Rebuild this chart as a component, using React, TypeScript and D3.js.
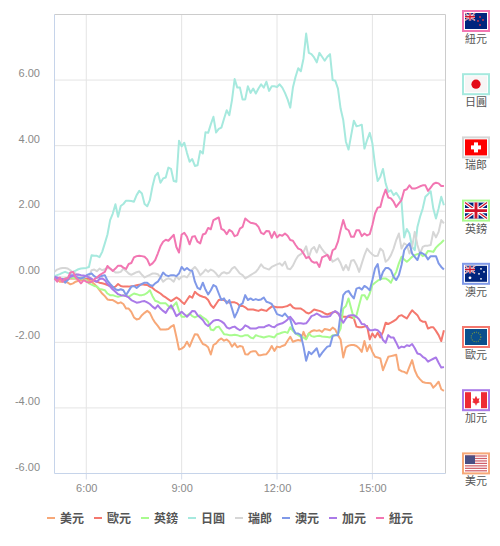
import React from "react";
import * as d3 from "d3";

const USD = [-.05,-.08,-.15,-.15,-.15,-.18,-.23,-.20,-.15,-.12,-.10,-.10,-.10,-.12,-.15,-.22,-.30,-.41,-.51,-.59,-.69,-.71,-.71,-.76,-.81,-.78,-.83,-.97,-.97,-1.07,-1.24,-1.30,-1.28,-1.17,-1.10,-1.04,-1.10,-1.27,-1.40,-1.50,-1.61,-1.61,-1.61,-1.59,-1.52,-1.47,-1.83,-2.22,-2.19,-2.13,-1.98,-2.13,-1.93,-1.75,-1.76,-1.91,-2.05,-2.08,-2.15,-2.37,-2.08,-2.03,-1.93,-1.88,-1.95,-1.91,-1.98,-2.13,-2.03,-2.15,-2.11,-2.13,-2.36,-2.37,-2.29,-2.27,-2.27,-2.39,-2.39,-2.37,-2.36,-2.26,-2.11,-2.26,-2.13,-2.15,-2.11,-2.08,-1.95,-1.83,-1.98,-1.95,-1.93,-1.95,-1.68,-1.88,-1.73,-1.66,-1.63,-1.65,-1.63,-1.68,-1.59,-1.61,-1.63,-1.55,-1.61,-1.78,-1.91,-2.46,-2.15,-2.10,-2.08,-2.08,-2.11,-2.18,-2.29,-1.96,-2.27,-2.08,-2.29,-2.44,-2.46,-2.49,-2.85,-2.64,-2.44,-2.42,-2.40,-2.38,-2.83,-2.88,-2.90,-2.95,-2.74,-2.54,-2.85,-3.03,-3.13,-3.21,-3.23,-3.24,-3.25,-3.38,-3.30,-3.20,-3.43,-3.48];
const EUR = [-.02,-.05,-.08,-.10,-.10,-.08,-.05,-.05,-.05,-.05,-.05,-.05,-.05,-.06,-.08,-.12,-.15,-.18,-.20,-.22,-.25,-.28,-.33,-.30,-.22,-.28,-.30,-.30,-.30,-.29,-.28,-.26,-.24,-.23,-.24,-.25,-.30,-.34,-.41,-.46,-.51,-.58,-.63,-.69,-.74,-.69,-.63,-.68,-.76,-.83,-.71,-.59,-.64,-.46,-.53,-.58,-.61,-.63,-.71,-.86,-.95,-.83,-.71,-.69,-.71,-.76,-.79,-.78,-.78,-.81,-.89,-.89,-.93,-1.0,-1.0,-1.0,-1.02,-1.04,-1.0,-1.02,-1.04,-.97,-.91,-.91,-.93,-.93,-.93,-.91,-.89,-.84,-.93,-.97,-.97,-.97,-1.02,-1.09,-1.12,-1.07,-1.0,-1.02,-1.04,-1.07,-1.12,-1.15,-1.12,-1.09,-1.06,-1.12,-1.17,-1.22,-1.22,-1.22,-1.24,-1.27,-1.52,-1.54,-1.54,-1.52,-1.50,-1.91,-1.73,-1.85,-1.71,-1.85,-1.68,-1.40,-1.44,-1.40,-1.35,-1.30,-1.20,-1.17,-1.22,-1.27,-1.14,-1.02,-1.10,-1.17,-1.32,-1.37,-1.37,-1.58,-1.54,-1.54,-1.65,-1.78,-1.96,-1.63];
const GBP = [0,-.05,-.08,-.06,-.05,-.03,-.02,-.04,-.05,-.05,-.05,-.07,-.10,-.20,-.24,-.28,-.30,-.37,-.39,-.41,-.51,-.56,-.56,-.59,-.61,-.59,-.56,-.58,-.61,-.56,-.51,-.53,-.56,-.56,-.54,-.49,-.41,-.59,-.73,-.76,-.81,-.81,-.81,-.89,-.97,-.87,-.78,-1.04,-1.22,-1.22,-1.18,-1.12,-1.20,-1.24,-1.20,-1.17,-1.24,-1.29,-1.37,-1.61,-1.63,-1.54,-1.52,-1.63,-1.75,-1.76,-1.78,-1.78,-1.77,-1.78,-1.81,-1.81,-1.78,-1.78,-1.85,-1.88,-1.78,-1.81,-1.83,-1.85,-1.83,-1.81,-1.83,-1.85,-1.75,-1.73,-1.70,-1.68,-1.71,-1.54,-1.65,-1.73,-1.78,-1.83,-1.85,-1.91,-1.73,-1.81,-1.83,-1.81,-1.80,-1.82,-1.83,-1.84,-1.85,-1.78,-1.78,-1.75,-1.58,-.97,-.89,-.66,-.97,-1.27,-1.17,-.86,-.56,-.56,-.69,-.51,-.25,-.18,-.12,-.08,-.05,-.05,-.10,-.18,0,.15,.41,.61,.53,.46,.53,.61,.66,.69,.71,.63,.66,.79,.78,.76,.89,.97,1.04,1.12];
const JPY = [.02,.05,.08,.12,.15,.12,.10,.15,.19,.23,.25,.26,.27,.30,.66,.64,.64,.60,.76,1.02,1.29,1.73,1.93,2.21,1.83,2.16,2.22,2.32,2.32,2.31,2.29,2.49,2.62,2.54,2.22,2.15,2.34,2.76,3.08,3.17,2.87,3.00,3.03,3.33,3.29,2.92,2.90,4.15,3.98,4.09,3.78,3.51,3.59,3.38,3.40,3.84,3.76,4.41,4.39,4.65,4.88,4.40,4.51,4.55,4.82,5.08,4.93,5.39,6.03,5.77,5.77,5.41,5.41,5.81,5.61,5.74,5.59,5.74,5.87,5.77,5.95,5.67,5.81,5.81,5.79,5.87,5.77,5.61,5.41,5.16,5.77,6.10,6.36,6.27,6.66,7.42,6.83,6.79,6.69,6.54,6.83,6.71,6.59,6.71,6.79,6.00,5.98,5.74,5.13,4.78,4.12,3.88,4.32,4.76,4.59,4.61,4.64,3.91,4.17,4.39,4.07,3.40,2.92,3.05,3.29,2.85,2.59,2.64,2.49,2.56,2.44,2.29,1.20,1.46,1.32,.91,.81,1.52,1.83,2.08,2.44,2.52,2.61,2.08,1.78,2.08,2.44,2.18];
const CHF = [.15,.22,.25,.27,.27,.25,.20,.13,.10,.05,.02,0,0,.02,.20,.22,.17,.25,.20,.23,.27,.25,.20,.13,.13,.15,.25,.18,.10,.06,.10,.14,.16,.06,-.02,.02,.06,.10,.10,.08,-.02,-.15,-.08,-.05,-.08,-.15,.02,-.08,0,.02,-.02,.10,.22,.30,.20,.05,.12,.22,.15,.22,.18,.10,0,.10,.14,.10,.13,.25,.30,.20,.10,.05,-.05,0,.05,.10,.15,.25,.38,.28,.25,.22,.30,.34,.38,.41,.34,.46,.25,.23,.34,.51,.64,.69,.76,.93,.59,.84,.91,.74,.97,.84,.74,.66,.61,.46,.51,.56,.41,.20,.36,.20,.49,.51,.36,.15,.41,.66,.86,.76,.68,.63,.64,.86,.79,.46,.53,.66,.86,1.12,1.32,.86,1.02,.97,.71,.91,1.37,.97,.71,.91,.95,.95,.97,1.37,1.20,1.37,1.73,1.63];
const AUD = [-.08,-.05,-.05,-.08,-.18,-.10,.05,.05,0,-.03,-.05,-.02,.04,.08,.10,.02,-.03,0,.03,.05,-.12,-.22,-.30,-.38,-.41,-.38,-.41,-.56,-.43,-.30,-.28,-.34,-.27,-.22,-.18,-.18,-.25,-.28,-.20,-.15,-.02,.13,.05,.02,.05,.05,.02,.10,.30,.20,.27,.20,.18,-.15,-.34,-.38,-.18,-.39,-.54,-.41,-.25,-.30,-.51,-.71,-.66,-.81,-.71,-.97,-1.24,-1.07,-.86,-.81,-.56,-.71,-.66,-.71,-.68,-.71,-.69,-.63,-.76,-.79,-.83,-.97,-1.14,-1.17,-1.20,-1.12,-1.22,-1.30,-1.58,-1.73,-1.73,-1.78,-2.13,-2.56,-2.29,-2.36,-2.27,-2.18,-2.44,-2.32,-2.22,-2.13,-2.11,-1.81,-1.78,-1.78,-1.12,-.56,-.46,-.43,-.56,-.66,-.36,-.33,-.39,-.28,-.33,-.41,-.10,.25,.39,-.08,.15,.27,.27,.20,0,-.10,.05,.36,.81,.93,1.02,.71,.61,.51,.74,.71,.66,.53,.63,.63,.63,.41,.30,.22];
const CAD = [0,-.02,-.05,-.07,-.08,-.04,0,.03,.06,.07,.05,.04,.02,-.02,-.06,-.12,-.15,-.07,-.05,-.10,-.22,-.30,-.39,-.46,-.53,-.56,-.57,-.59,-.63,-.71,-.75,-.79,-.78,-.75,-.74,-.78,-.83,-.91,-.97,-.87,-.97,-1.04,-1.10,-.97,-.87,-1.02,-1.20,-1.14,-1.07,-1.14,-1.22,-1.14,-1.04,-1.05,-1.17,-1.24,-1.32,-1.44,-1.50,-1.42,-1.34,-1.32,-1.32,-1.36,-1.42,-1.54,-1.58,-1.54,-1.52,-1.58,-1.63,-1.58,-1.48,-1.52,-1.58,-1.58,-1.58,-1.54,-1.54,-1.54,-1.50,-1.47,-1.52,-1.54,-1.47,-1.44,-1.42,-1.37,-1.30,-1.22,-1.32,-1.44,-1.42,-1.42,-1.43,-1.42,-1.32,-1.20,-1.17,-1.12,-1.17,-1.22,-1.22,-1.22,-1.20,-1.09,-1.05,-1.10,-1.27,-1.40,-1.27,-1.19,-1.17,-1.17,-1.22,-1.30,-1.44,-1.45,-1.54,-1.63,-1.63,-1.61,-1.63,-1.71,-1.93,-2.01,-1.78,-1.85,-1.85,-2.01,-2.18,-2.13,-2.15,-2.09,-2.11,-2.05,-2.18,-2.34,-2.36,-2.44,-2.49,-2.59,-2.54,-2.50,-2.46,-2.62,-2.77,-2.75];
const NZD = [-.05,-.15,-.02,-.15,-.05,-.05,.13,.15,-.02,-.10,-.20,-.10,-.15,-.18,-.15,-.08,-.02,.05,.10,.15,.33,.25,.18,.25,.34,.34,.28,.24,.39,.42,.59,.63,.64,.63,.61,.53,.35,.41,.51,.71,.93,1.07,1.13,1.10,1.19,1.28,.91,.74,1.29,1.34,1.22,.99,1.22,1.24,1.07,1.02,1.29,1.32,1.49,1.45,1.73,1.77,1.81,1.46,1.42,1.30,1.43,1.38,1.24,1.27,1.47,1.52,1.78,1.71,1.65,1.63,1.61,1.52,1.34,1.30,1.40,1.39,1.19,1.37,1.20,1.28,1.25,1.32,1.25,1.12,1.10,.97,.86,.83,.71,.57,.61,.48,.43,.44,.30,.59,.63,.67,.51,.81,.86,1.07,1.42,1.73,1.47,1.42,1.22,1.22,1.42,1.42,1.24,1.32,1.26,1.30,1.58,1.93,2.11,2.13,2.44,2.66,2.42,2.39,2.29,2.13,2.24,2.34,2.64,2.67,2.79,2.69,2.69,2.72,2.76,2.79,2.79,2.62,2.72,2.83,2.87,2.85,2.77,2.77];

const names = ["美元", "歐元", "英鎊", "日圓", "瑞郎", "澳元", "加元", "紐元"];
const colors = ["#f7a878", "#f4786e", "#a8fb8e", "#a6e9de", "#d6d6d6", "#8099e8", "#aa7ae8", "#f276b2"];
const seriesData = [USD, EUR, GBP, JPY, CHF, AUD, CAD, NZD];
const yTicks = [-6, -4, -2, 0, 2, 4, 6];
const xTickHours = [6, 9, 12, 15];
const flagOrder = [7, 3, 4, 2, 5, 1, 6, 0];

const LEFT = 54.5, RIGHT = 445.5, TOP = 14.5, BOTTOM = 473.5;
const x = d3.scaleLinear().domain([300, 1038]).range([LEFT, RIGHT]);
const y = d3.scaleLinear().domain([-6, 8]).range([BOTTOM, TOP]);
const TICK = "Liberation Sans, Arial, sans-serif";
const CJK = "'Noto Sans CJK TC', sans-serif";

function Jack({ w, h }: { w: number; h: number }) {
  return (
    <g>
      <rect width={w} height={h} fill="#00247d" />
      <path d={`M0 0L${w} ${h}M${w} 0L0 ${h}`} stroke="#fff" strokeWidth={h * 0.2} />
      <path d={`M0 0L${w} ${h}M${w} 0L0 ${h}`} stroke="#cf142b" strokeWidth={h * 0.08} />
      <path d={`M${w / 2} 0V${h}M0 ${h / 2}H${w}`} stroke="#fff" strokeWidth={h * 0.32} />
      <path d={`M${w / 2} 0V${h}M0 ${h / 2}H${w}`} stroke="#cf142b" strokeWidth={h * 0.18} />
    </g>
  );
}

function Flag({ name }: { name: string }) {
  const W = 22, H = 16;
  if (name === "紐元" || name === "澳元") {
    const star = name === "紐元" ? "#d8384a" : "#fff";
    const pts = name === "紐元"
      ? [[15, 4], [18, 7], [13, 8], [15, 12]]
      : [[5, 12], [16, 3], [19, 6], [14, 8], [16, 13]];
    return (
      <g>
        <rect width={W} height={H} fill="#00247d" />
        <Jack w={10} h={7.5} />
        {pts.map((p, i) => <circle key={i} cx={p[0]} cy={p[1]} r={name === "澳元" && i === 0 ? 1.4 : 0.9} fill={star} />)}
      </g>
    );
  }
  if (name === "日圓") {
    return <g><rect width={W} height={H} fill="#f7f5f5" /><circle cx={W / 2} cy={H / 2} r={4.6} fill="#e30a17" /></g>;
  }
  if (name === "瑞郎") {
    return (
      <g>
        <rect width={W} height={H} fill="#fe0000" />
        <rect x={9} y={3} width={4} height={10} fill="#fff" />
        <rect x={6} y={6} width={10} height={4} fill="#fff" />
      </g>
    );
  }
  if (name === "英鎊") return <Jack w={W} h={H} />;
  if (name === "歐元") {
    return (
      <g>
        <rect width={W} height={H} fill="#0a4f8c" />
        <circle cx={W / 2} cy={H / 2} r={4.8} fill="none" stroke="#7f9a3c" strokeWidth={1.1} strokeDasharray="1 1.2" />
      </g>
    );
  }
  if (name === "加元") {
    return (
      <g>
        <rect width={W} height={H} fill="#fff" />
        <rect width={6} height={H} fill="#ee2a35" />
        <rect x={16} width={6} height={H} fill="#ee2a35" />
        <path d="M11 3.5L12.4 6.5L14.5 6L13.6 9L15 9.8L11.6 11.5V13H10.4V11.5L7 9.8L8.4 9L7.5 6L9.6 6.5Z" fill="#ee2a35" />
      </g>
    );
  }
  return (
    <g>
      <rect width={W} height={H} fill="#fff" />
      {d3.range(0, 7).map((i) => <rect key={i} y={i * (H / 6.5)} width={W} height={H / 13} fill="#c8434f" opacity={0.85} />)}
      <rect width={10} height={8.6} fill="#4a4f84" />
    </g>
  );
}

export default function App() {
  const line = d3.line<number>().x((_, i) => x(300 + i * 5)).y((d) => y(d));
  return (
    <svg width={500} height={546} style={{ position: "absolute", left: 0, top: 0, background: "#fff" }}>
      {yTicks.filter((t) => t !== -6).map((t) => (
        <line key={t} x1={LEFT} x2={RIGHT} y1={y(t)} y2={y(t)} stroke="#e4e4e4" />
      ))}
      {xTickHours.map((h) => (
        <line key={h} x1={x(h * 60)} x2={x(h * 60)} y1={TOP} y2={BOTTOM} stroke="#e4e4e4" />
      ))}
      {xTickHours.map((h) => (
        <line key={h} x1={x(h * 60)} x2={x(h * 60)} y1={BOTTOM} y2={BOTTOM + 6} stroke="#d5dcea" />
      ))}
      <line x1={LEFT} x2={RIGHT} y1={TOP} y2={TOP} stroke="#cccccc" />
      <line x1={RIGHT} x2={RIGHT} y1={TOP} y2={BOTTOM} stroke="#cccccc" />
      <line x1={LEFT} x2={LEFT} y1={TOP} y2={BOTTOM} stroke="#c6d4ea" />
      <line x1={LEFT} x2={RIGHT} y1={BOTTOM} y2={BOTTOM} stroke="#c6d4ea" />
      {seriesData.map((s, i) => (
        <path key={names[i]} d={line(s) ?? ""} fill="none" stroke={colors[i]} strokeWidth={2} strokeLinejoin="round" />
      ))}
      {yTicks.map((t) => (
        <text key={t} x={40} y={y(t) - 3} textAnchor="end" fontFamily={TICK} fontSize={11} fill="#8a8a8a">{t.toFixed(2)}</text>
      ))}
      {xTickHours.map((h) => (
        <text key={h} x={x(h * 60) + 0.5} y={492} textAnchor="middle" fontFamily={TICK} fontSize={11} fill="#8a8a8a">{`${h}:00`}</text>
      ))}
      {names.map((n, i) => (
        <g key={n}>
          <rect x={47 + i * 47} y={517} width={8} height={2} fill={colors[i]} />
          <text x={60 + i * 47} y={523} fontFamily={CJK} fontSize={12} fontWeight={700} fill="#555">{n}</text>
        </g>
      ))}
      {flagOrder.map((idx, i) => {
        const top = 10 + i * 63.2;
        return (
          <g key={idx} transform={`translate(462,${top})`}>
            <rect x={1} y={1} width={26} height={20} fill="#fff" stroke={colors[idx]} strokeWidth={2} />
            <g transform="translate(3,3)"><Flag name={names[idx]} /></g>
            <text x={14} y={33} textAnchor="middle" fontFamily={CJK} fontSize={11} fill="#555">{names[idx]}</text>
          </g>
        );
      })}
    </svg>
  );
}
